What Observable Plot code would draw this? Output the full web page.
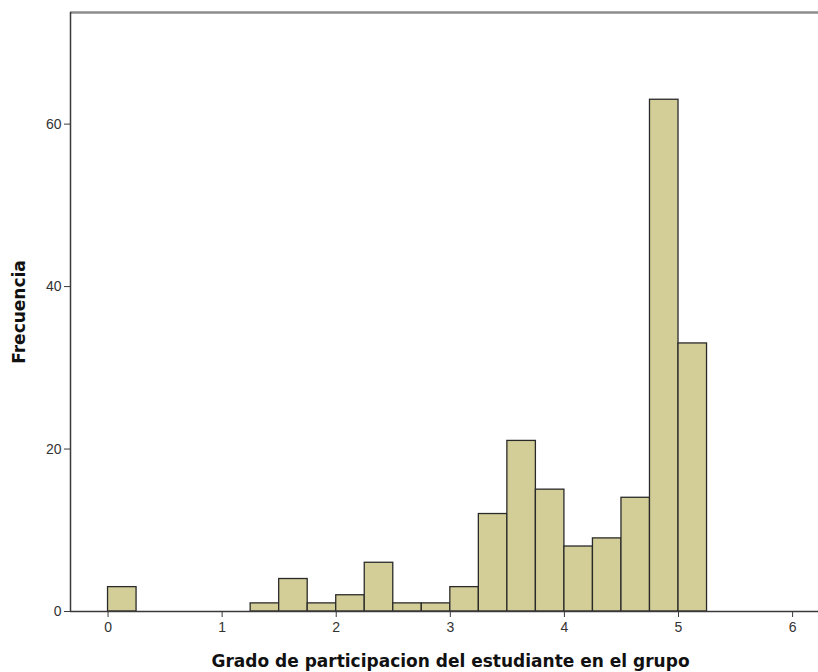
<!DOCTYPE html>
<html>
<head>
<meta charset="utf-8">
<script src="https://cdn.jsdelivr.net/npm/d3@7"></script>
<script src="https://cdn.jsdelivr.net/npm/@observablehq/plot@0.6"></script>
<style>
  html, body { margin: 0; padding: 0; background: #fff; }
</style>
</head>
<body>
<div id="chart"></div>
<script>
const binLower = [0, 1.25, 1.5, 1.75, 2, 2.25, 2.5, 2.75, 3, 3.25, 3.5, 3.75, 4, 4.25, 4.5, 4.75, 5];
const binUpper = [0.25, 1.5, 1.75, 2, 2.25, 2.5, 2.75, 3, 3.25, 3.5, 3.75, 4, 4.25, 4.5, 4.75, 5, 5.25];
const counts   = [3, 1, 4, 1, 2, 6, 1, 1, 3, 12, 21, 15, 8, 9, 14, 63, 33];
const xTicks = [0, 1, 2, 3, 4, 5, 6];
const yTicks = [0, 20, 40, 60];
const xDomain = [-0.329, 6.227];
const yDomain = [0, 73.74];
const xTitle = "Grado de participacion del estudiante en el grupo";
const yTitle = "Frecuencia";

const bins = binLower.map((lo, i) => ({x1: lo, x2: binUpper[i], y: counts[i]}));

const chart = Plot.plot({
  width: 818,
  height: 672,
  marginLeft: 70,
  marginRight: 0,
  marginTop: 12,
  marginBottom: 61,
  style: {fontFamily: "DejaVu Sans", background: "#fff", overflow: "visible"},
  x: {domain: xDomain},
  y: {domain: yDomain},
  marks: [
    Plot.rectY(bins, {x1: "x1", x2: "x2", y: "y", fill: "#d3ce97", stroke: "#2a2a2a", strokeWidth: 1.3, inset: 0}),
    Plot.ruleY([yDomain[1]], {stroke: "#8c8c8c", strokeWidth: 2.5}),
    Plot.ruleX([xDomain[0]], {stroke: "#3a3a3a", strokeWidth: 1.5}),
    Plot.ruleY([0], {stroke: "#3a3a3a", strokeWidth: 1.5}),
    Plot.axisX(xTicks, {ticks: xTicks, tickSize: 6, tickPadding: 5, fontSize: 14, fontFamily: "Liberation Sans", stroke: "#3a3a3a", fill: "#333", label: null, tickFormat: d3.format("d")}),
    Plot.axisY(yTicks, {ticks: yTicks, tickSize: 6, tickPadding: 3, fontSize: 14, fontFamily: "Liberation Sans", stroke: "#3a3a3a", fill: "#333", label: null, tickFormat: d3.format("d")}),
    Plot.text([xTitle], {frameAnchor: "bottom", dx: 6, dy: 50, fontSize: 17, fontWeight: "bold", fill: "#111", lineAnchor: "middle", textAnchor: "middle"}),
    Plot.text([yTitle], {frameAnchor: "left", dx: -51, rotate: -90, fontSize: 17, fontWeight: "bold", fill: "#111", lineAnchor: "middle", textAnchor: "middle"})
  ]
});
document.getElementById("chart").appendChild(chart);
</script>
</body>
</html>
